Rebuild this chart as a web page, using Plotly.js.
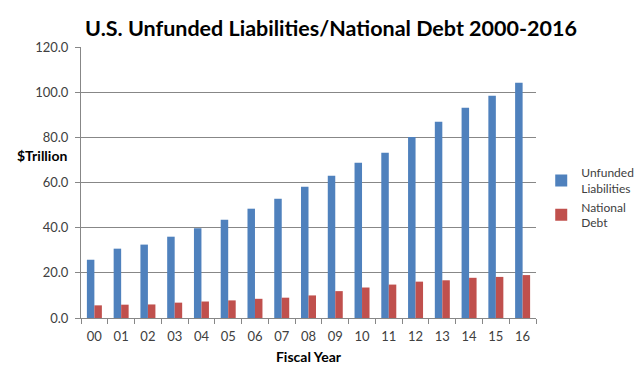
<!DOCTYPE html>
<html>
<head>
<meta charset="utf-8">
<script src="https://cdn.plot.ly/plotly-3.0.1.min.js"></script>
<style>html,body{margin:0;padding:0;background:#fff;}#chart{width:639px;height:380px;}</style>
</head>
<body>
<div id="chart"></div>
<script>
const years = ["00","01","02","03","04","05","06","07","08","09","10","11","12","13","14","15","16"];
const unfunded = [25.8, 30.7, 32.5, 36.0, 39.7, 43.5, 48.4, 52.8, 58.1, 63.0, 68.8, 73.2, 80.2, 86.9, 93.1, 98.4, 104.2];
const nationalDebt = [5.6, 5.9, 6.0, 6.8, 7.3, 7.8, 8.5, 9.0, 10.0, 11.9, 13.5, 14.8, 16.1, 16.7, 17.8, 18.2, 19.0];
const seriesNames = ["Unfunded<br>Liabilities", "National<br>Debt"];

const font = "Lato, 'Open Sans', sans-serif";
const data = [
  {type: "bar", x: years, y: unfunded, name: seriesNames[0], marker: {color: "#4f81bd"}},
  {type: "bar", x: years, y: nationalDebt, name: seriesNames[1], marker: {color: "#c0504d"}}
];
const layout = {
  width: 639, height: 380,
  margin: {l: 81, r: 103, t: 47, b: 62},
  paper_bgcolor: "#fff", plot_bgcolor: "#fff",
  font: {family: font, color: "#404040", size: 12},
  title: {text: "<b>U.S. Unfunded Liabilities/National Debt 2000-2016</b>", xref: "container", x: 0.518, xanchor: "center", yref: "container", y: 0.925, yanchor: "middle", font: {size: 21.5, color: "#000", family: font}},
  barmode: "group", bargap: 0.44, bargroupgap: 0,
  xaxis: {
    type: "category", showline: true, linecolor: "#878787", linewidth: 1,
    ticks: "outside", tickson: "boundaries", ticklen: 5, tickcolor: "#878787",
    ticklabelstandoff: 6, tickangle: 0, automargin: false,
    tickfont: {size: 13, color: "#404040"},
    title: {text: "<b>Fiscal Year</b>", font: {size: 14, color: "#000"}, standoff: 9}
  },
  yaxis: {
    range: [0, 120], dtick: 20, tickformat: ".1f", automargin: false,
    showgrid: true, gridcolor: "#878787", gridwidth: 1,
    showline: true, linecolor: "#878787", zeroline: false,
    ticks: "outside", ticklen: 5, tickcolor: "#878787",
    ticklabelstandoff: 4,
    tickfont: {size: 13, color: "#404040"}
  },
  legend: {xref: "container", yref: "container", x: 0.847, y: 0.583, xanchor: "left", yanchor: "top", font: {size: 12, color: "#404040"}, tracegroupgap: 10, traceorder: "normal", itemwidth: 30},
  annotations: [{
    text: "<b>$Trillion</b>", xref: "paper", yref: "paper", x: -0.027, y: 0.6, xanchor: "right", yanchor: "middle",
    showarrow: false, font: {size: 14, color: "#000"}
  }]
};
Plotly.newPlot("chart", data, layout, {displayModeBar: false, staticPlot: true});
</script>
</body>
</html>
